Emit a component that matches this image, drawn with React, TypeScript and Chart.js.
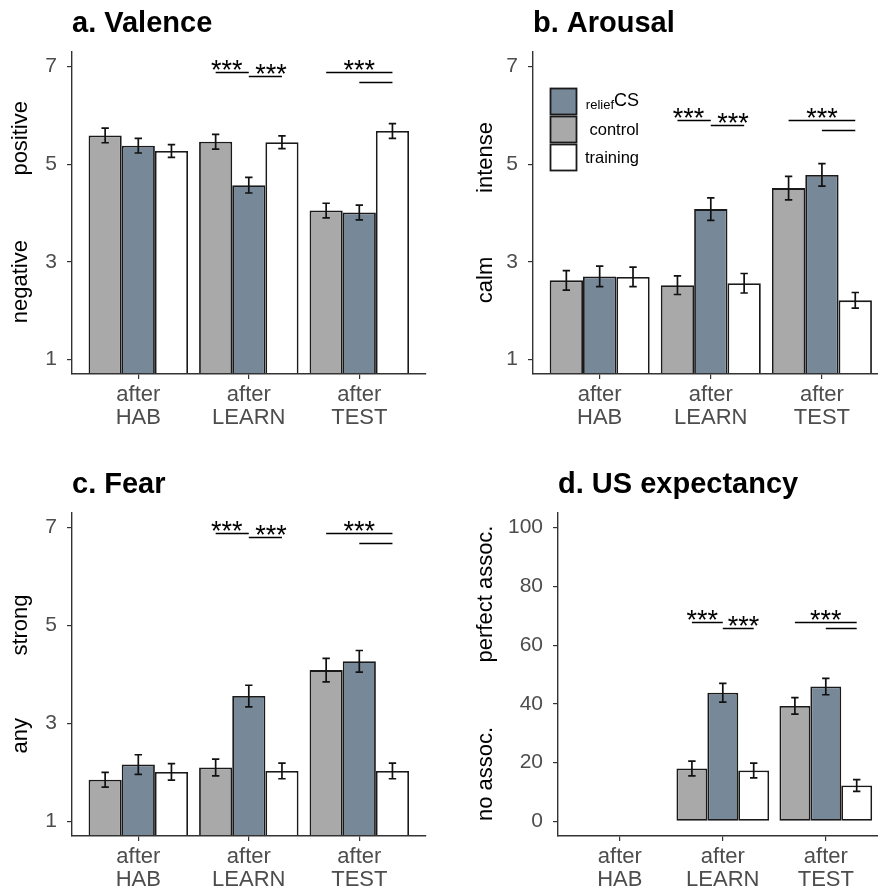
import React, { useEffect, useRef } from 'react';
import { Chart, registerables } from 'chart.js';

Chart.register(...registerables);

const FONT = '"Liberation Sans", Arial, Helvetica, sans-serif';
Chart.defaults.font.family = FONT;

// ---------- data ----------
const phaseLabels = [['after', 'HAB'], ['after', 'LEARN'], ['after', 'TEST']];
const groupLabels = ['control', 'reliefCS', 'training'];
const groupColors = ['#A9A9A9', '#778899', '#FFFFFF'];

const valenceControl = [5.59, 5.46, 4.05];
const valenceRelief = [5.38, 4.57, 4.01];
const valenceTraining = [5.27, 5.45, 5.68];
const valenceControlSE = [0.15, 0.15, 0.15];
const valenceReliefSE = [0.15, 0.16, 0.15];
const valenceTrainingSE = [0.13, 0.13, 0.15];

const arousalControl = [2.62, 2.52, 4.51];
const arousalRelief = [2.7, 4.08, 4.78];
const arousalTraining = [2.69, 2.56, 2.21];
const arousalControlSE = [0.2, 0.19, 0.24];
const arousalReliefSE = [0.21, 0.23, 0.23];
const arousalTrainingSE = [0.2, 0.2, 0.16];

const fearControl = [1.85, 2.1, 4.09];
const fearRelief = [2.16, 3.56, 4.27];
const fearTraining = [2.01, 2.03, 2.03];
const fearControlSE = [0.15, 0.17, 0.24];
const fearReliefSE = [0.2, 0.22, 0.22];
const fearTrainingSE = [0.17, 0.16, 0.16];

const usControl = [null, 18.0, 39.3];
const usRelief = [null, 43.8, 45.9];
const usTraining = [null, 17.3, 12.2];
const usControlSE = [0, 2.5, 2.8];
const usReliefSE = [0, 3.2, 2.8];
const usTrainingSE = [0, 2.5, 2.0];

const ratingTicks = [1, 3, 5, 7];
const usTicks = [0, 20, 40, 60, 80, 100];

// significance brackets [xFrom, xTo, y] and star anchors [x, y]
const ratingSigLines = [[0.7, 1.0, 6.9], [1.0, 1.3, 6.8], [1.7, 2.3, 6.9], [2.0, 2.3, 6.69]];
const ratingStars = [[0.8, 6.9], [1.2, 6.8], [2.0, 6.9]];
const arousalSigLines = [[0.7, 1.0, 5.9], [1.0, 1.3, 5.8], [1.7, 2.3, 5.9], [2.0, 2.3, 5.7]];
const arousalStars = [[0.8, 5.9], [1.2, 5.8], [2.0, 5.9]];
const usSigLines = [[0.7, 1.0, 68], [1.0, 1.3, 66], [1.7, 2.3, 68], [2.0, 2.3, 66]];
const usStars = [[0.8, 68], [1.2, 66], [2.0, 68]];

type Series = { values: (number | null)[]; se: number[] };
type Panel = {
  title: string;
  series: Series[];
  yMin: number;
  yMax: number;
  yTicks: number[];
  sigLines: number[][];
  stars: number[][];
  yTitles: { text: string; y: number }[];
  yTitleX: number;
  left: number;
  top: number;
  width: number;
  height: number;
  area: { left: number; top: number; right: number; bottom: number };
  titleY: number;
  legend: boolean;
};

const panels: Panel[] = [
  {
    title: 'a. Valence',
    series: [
      { values: valenceControl, se: valenceControlSE },
      { values: valenceRelief, se: valenceReliefSE },
      { values: valenceTraining, se: valenceTrainingSE },
    ],
    yMin: 0.7, yMax: 7.3, yTicks: ratingTicks,
    sigLines: ratingSigLines, stars: ratingStars,
    yTitles: [{ text: 'positive', y: 138.3 }, { text: 'negative', y: 281.7 }],
    yTitleX: 27,
    left: 0, top: 0, width: 440, height: 440,
    area: { left: 72, top: 52, right: 425.6, bottom: 374 },
    titleY: 32, legend: false,
  },
  {
    title: 'b. Arousal',
    series: [
      { values: arousalControl, se: arousalControlSE },
      { values: arousalRelief, se: arousalReliefSE },
      { values: arousalTraining, se: arousalTrainingSE },
    ],
    yMin: 0.7, yMax: 7.3, yTicks: ratingTicks,
    sigLines: arousalSigLines, stars: arousalStars,
    yTitles: [{ text: 'intense', y: 157.5 }, { text: 'calm', y: 280 }],
    yTitleX: 51.5,
    left: 440, top: 0, width: 460, height: 440,
    area: { left: 93, top: 52, right: 448.6, bottom: 374 },
    titleY: 32, legend: true,
  },
  {
    title: 'c. Fear',
    series: [
      { values: fearControl, se: fearControlSE },
      { values: fearRelief, se: fearReliefSE },
      { values: fearTraining, se: fearTrainingSE },
    ],
    yMin: 0.7, yMax: 7.3, yTicks: ratingTicks,
    sigLines: ratingSigLines, stars: ratingStars,
    yTitles: [{ text: 'strong', y: 185 }, { text: 'any', y: 295.7 }],
    yTitleX: 27,
    left: 0, top: 440, width: 440, height: 448,
    area: { left: 72, top: 73, right: 425.6, bottom: 396 },
    titleY: 53, legend: false,
  },
  {
    title: 'd. US expectancy',
    series: [
      { values: usControl, se: usControlSE },
      { values: usRelief, se: usReliefSE },
      { values: usTraining, se: usTrainingSE },
    ],
    yMin: -5, yMax: 105, yTicks: usTicks,
    sigLines: usSigLines, stars: usStars,
    yTitles: [{ text: 'perfect assoc.', y: 154 }, { text: 'no assoc.', y: 334 }],
    yTitleX: 51.5,
    left: 440, top: 440, width: 460, height: 448,
    area: { left: 118, top: 73, right: 447.6, bottom: 396 },
    titleY: 53, legend: false,
  },
];

function makeOverlay(p: Panel) {
  return {
    id: 'overlay',
    afterDatasetsDraw(chart: any) {
      const ctx = chart.ctx;
      const xs = chart.scales.x;
      const ys = chart.scales.y;
      ctx.save();
      ctx.strokeStyle = '#111';
      ctx.lineWidth = 1.7;
      p.series.forEach((s, di) => {
        const meta = chart.getDatasetMeta(di);
        meta.data.forEach((el: any, j: number) => {
          const v = s.values[j];
          if (v == null) return;
          const e = s.se[j];
          const x = el.x;
          const y1 = ys.getPixelForValue(v - e);
          const y2 = ys.getPixelForValue(v + e);
          ctx.beginPath();
          ctx.moveTo(x, y1);
          ctx.lineTo(x, y2);
          ctx.moveTo(x - 3.7, y1);
          ctx.lineTo(x + 3.7, y1);
          ctx.moveTo(x - 3.7, y2);
          ctx.lineTo(x + 3.7, y2);
          ctx.stroke();
        });
      });
      ctx.strokeStyle = '#000';
      ctx.lineWidth = 1.5;
      p.sigLines.forEach(([a, b, y]) => {
        const py = Math.round(ys.getPixelForValue(y)) + 0.5;
        ctx.beginPath();
        ctx.moveTo(xs.getPixelForValue(a), py);
        ctx.lineTo(xs.getPixelForValue(b), py);
        ctx.stroke();
      });
      ctx.fillStyle = '#000';
      ctx.font = `27px ${FONT}`;
      ctx.textAlign = 'center';
      ctx.textBaseline = 'alphabetic';
      p.stars.forEach(([x, y]) => {
        ctx.fillText('***', xs.getPixelForValue(x), ys.getPixelForValue(y) + 7);
      });
      ctx.restore();
    },
    afterDraw(chart: any) {
      const ctx = chart.ctx;
      const area = chart.chartArea;
      ctx.save();
      // title
      ctx.fillStyle = '#000';
      ctx.font = `bold 29px ${FONT}`;
      ctx.textAlign = 'left';
      ctx.textBaseline = 'alphabetic';
      ctx.fillText(p.title, area.left, p.titleY);
      // y-axis titles
      ctx.font = `22px ${FONT}`;
      ctx.textAlign = 'center';
      p.yTitles.forEach((t) => {
        ctx.save();
        ctx.translate(p.yTitleX, t.y);
        ctx.rotate(-Math.PI / 2);
        ctx.fillText(t.text, 0, 0);
        ctx.restore();
      });
      // legend
      if (p.legend) {
        const order = [1, 0, 2];
        const bx = 110;
        const by = 88;
        const step = 28;
        const textRight = 199;
        order.forEach((gi, k) => {
          const y0 = by + k * step;
          ctx.fillStyle = groupColors[gi];
          ctx.fillRect(bx, y0, 26, 26);
          ctx.strokeStyle = '#1a1a1a';
          ctx.lineWidth = 1.8;
          ctx.strokeRect(bx + 0.5, y0 + 0.5, 26, 26);
          ctx.fillStyle = '#000';
          ctx.textAlign = 'right';
          const lbl = groupLabels[gi];
          if (lbl === 'reliefCS') {
            ctx.textBaseline = 'alphabetic';
            ctx.font = `18px ${FONT}`;
            ctx.fillText('CS', textRight, y0 + 18);
            const w = ctx.measureText('CS').width;
            ctx.font = `13px ${FONT}`;
            ctx.fillText('relief', textRight - w, y0 + 21);
          } else {
            ctx.textBaseline = 'middle';
            ctx.font = `16.5px ${FONT}`;
            ctx.fillText(lbl, textRight, y0 + 14);
          }
        });
      }
      ctx.restore();
    },
  };
}

function buildConfig(p: Panel): any {
  const axisGrid = {
    display: true,
    drawOnChartArea: false,
    drawTicks: true,
    tickLength: 5,
    color: '#333',
    lineWidth: 1.2,
    offset: false,
  };
  const axisBorder = { display: true, color: '#333', width: 1.4, z: 1 };
  return {
    type: 'bar',
    data: {
      datasets: p.series.map((s, i) => ({
        label: groupLabels[i],
        data: s.values.map((v, j) => ({ x: j, y: v })),
        backgroundColor: groupColors[i],
        borderColor: '#1a1a1a',
        borderWidth: 1.8,
        borderSkipped: false,
        clip: 0,
        categoryPercentage: 0.9,
        barPercentage: 1,
      })),
    },
    options: {
      responsive: false,
      animation: false,
      devicePixelRatio: 1,
      events: [],
      layout: {
        padding: { left: 0, top: p.area.top, right: p.width - p.area.right, bottom: 0 },
      },
      plugins: {
        legend: { display: false },
        tooltip: { enabled: false },
        title: { display: false },
      },
      scales: {
        x: {
          type: 'linear',
          min: -0.6,
          max: 2.6,
          offset: false,
          afterBuildTicks: (s: any) => {
            s.ticks = phaseLabels.map((_, i) => ({ value: i }));
          },
          afterFit: (s: any) => {
            s.height = p.height - p.area.bottom;
          },
          grid: axisGrid,
          border: axisBorder,
          ticks: {
            color: '#4d4d4d',
            font: { family: FONT, size: 22, lineHeight: 1.06 },
            padding: 4,
            maxRotation: 0,
            autoSkip: false,
            callback: (v: number) => phaseLabels[v],
          },
        },
        y: {
          type: 'linear',
          min: p.yMin,
          max: p.yMax,
          afterBuildTicks: (s: any) => {
            s.ticks = p.yTicks.map((v) => ({ value: v }));
          },
          afterFit: (s: any) => {
            s.width = p.area.left;
          },
          grid: axisGrid,
          border: axisBorder,
          ticks: {
            color: '#4d4d4d',
            font: { family: FONT, size: 21 },
            padding: 10,
            callback: (v: number) => String(v),
          },
        },
      },
    },
    plugins: [makeOverlay(p)],
  };
}

function PanelChart({ p }: { p: Panel }) {
  const ref = useRef<HTMLCanvasElement>(null);
  useEffect(() => {
    const chart = new Chart(ref.current as HTMLCanvasElement, buildConfig(p));
    return () => chart.destroy();
  }, [p]);
  return (
    <canvas
      ref={ref}
      width={p.width}
      height={p.height}
      style={{ position: 'absolute', left: p.left, top: p.top, width: p.width, height: p.height }}
    />
  );
}

export default function App() {
  return (
    <div
      style={{
        position: 'fixed',
        left: 0,
        top: 0,
        width: 878,
        height: 888,
        overflow: 'hidden',
        background: '#fff',
      }}
    >
      {panels.map((p) => (
        <PanelChart key={p.title} p={p} />
      ))}
    </div>
  );
}
